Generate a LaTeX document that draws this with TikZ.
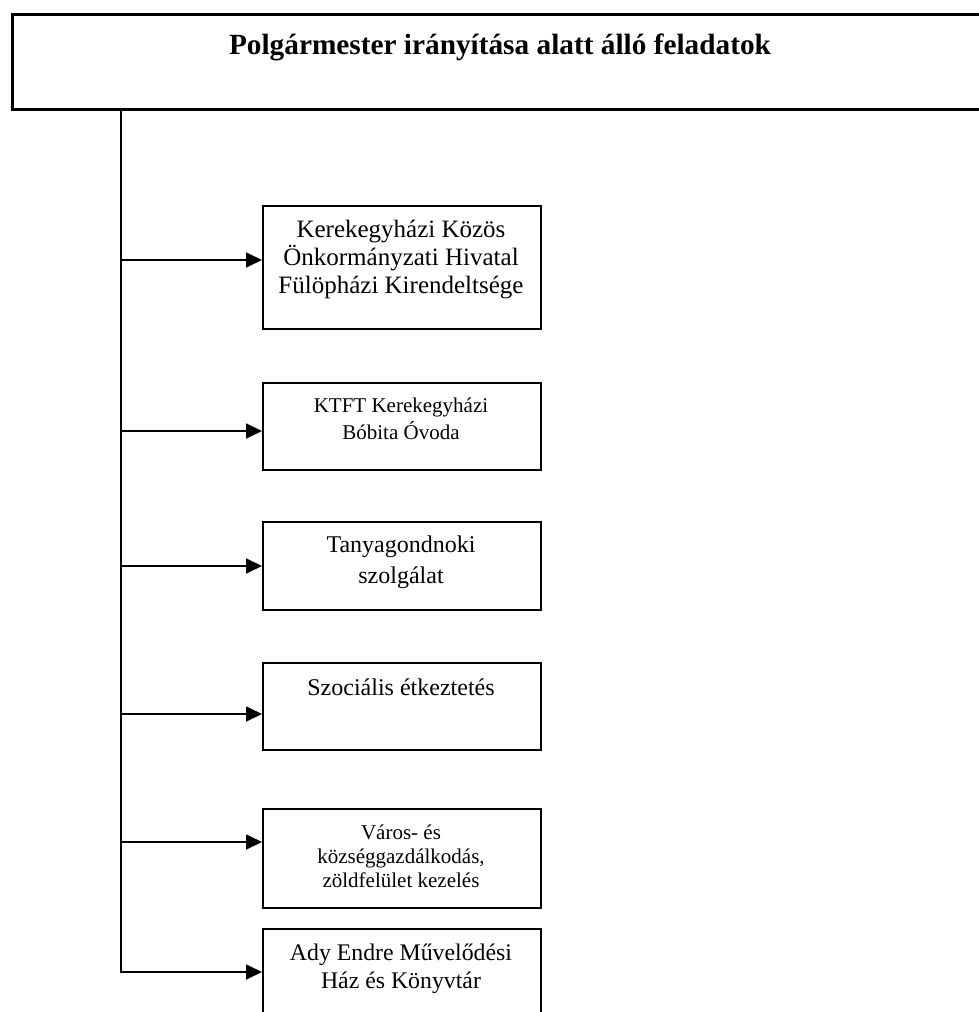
\documentclass[tikz,border=0pt]{standalone}
\usepackage{fontspec}
\setmainfont{Liberation Serif}
\usetikzlibrary{arrows.meta}
\tikzset{
  frame/.style={draw=black, line width=3pt, rectangle, inner sep=0pt},
  unit/.style={draw=black, line width=1.8pt, rectangle, inner sep=0pt, minimum width=278pt},
  lbl/.style={align=center, inner sep=0pt, font=\fontsize{23.8}{27.5}\selectfont},
  lblsmall/.style={align=center, inner sep=0pt, font=\fontsize{21}{27}\selectfont},
  conn/.style={line width=1.8pt, -{Triangle[length=16pt,width=15pt]}},
  spine/.style={line width=1.8pt},
}
\begin{document}
\begin{tikzpicture}[x=1pt,y=-1pt]
\useasboundingbox (0,0) rectangle (979,1012);
\clip (0,0) rectangle (979,1012);
% top box
\node[frame, minimum width=990pt, minimum height=95pt, anchor=north west] (top) at (11,13) {};
\node[inner sep=0pt, font=\fontsize{29.3}{32}\selectfont\bfseries] (title) at (500,47) {Polgármester irányítása alatt álló feladatok};
% spine
\coordinate (s0) at (121,108);
\coordinate (s6) at (121,973);
\draw[spine] (s0) -- (s6);
% boxes
\node[unit, minimum height=123pt, anchor=north west] (b1) at (262,205) {};
\node[lbl, font=\fontsize{25}{28}\selectfont] (t1) at (401,260) {Kerekegyházi Közös\\Önkormányzati Hivatal\\Fülöpházi Kirendeltsége};
\node[unit, minimum height=87pt, anchor=north west] (b2) at (262,382) {};
\node[lblsmall] (t2) at (401,419) {KTFT Kerekegyházi\\Bóbita Óvoda};
\node[unit, minimum height=88pt, anchor=north west] (b3) at (262,521) {};
\node[lbl, font=\fontsize{24}{31}\selectfont] (t3) at (401,562) {Tanyagondnoki\\szolgálat};
\node[unit, minimum height=87pt, anchor=north west] (b4) at (262,662) {};
\node[lbl, font=\fontsize{24}{28}\selectfont] (t4) at (401,687) {Szociális étkeztetés};
\node[unit, minimum height=99pt, anchor=north west] (b5) at (262,808) {};
\node[lblsmall, font=\fontsize{21}{24}\selectfont] (t5) at (401,856) {Város- és\\községgazdálkodás,\\zöldfelület kezelés};
\node[unit, minimum height=120pt, anchor=north west] (b6) at (262,928) {};
\node[lbl] (t6) at (401,969) {Ady Endre Művelődési\\Ház és Könyvtár};
% connectors
\coordinate (a1) at (121,260);
\coordinate (a2) at (121,431);
\coordinate (a3) at (121,566);
\coordinate (a4) at (121,714);
\coordinate (a5) at (121,842);
\coordinate (a6) at (121,972);
\draw[conn] (a1) -- (a1 -| b1.west);
\draw[conn] (a2) -- (a2 -| b2.west);
\draw[conn] (a3) -- (a3 -| b3.west);
\draw[conn] (a4) -- (a4 -| b4.west);
\draw[conn] (a5) -- (a5 -| b5.west);
\draw[conn] (a6) -- (a6 -| b6.west);
\end{tikzpicture}
\end{document}
